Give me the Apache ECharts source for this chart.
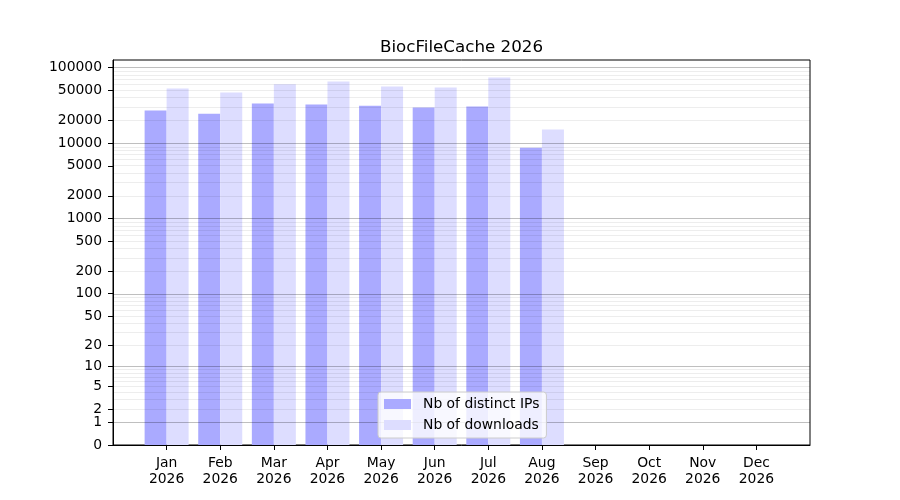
<!DOCTYPE html>
<html>
<head>
<meta charset="utf-8">
<script src="https://cdn.jsdelivr.net/npm/echarts@6/dist/echarts.min.js"></script>
<style>
    html, body { margin: 0; padding: 0; background: #fff; }
    #chart { width: 900px; height: 500px; }
</style>
</head>
<body>
<div id="chart"></div>
<script>
const title = "BiocFileCache 2026";
const months = ["Jan", "Feb", "Mar", "Apr", "May", "Jun", "Jul", "Aug", "Sep", "Oct", "Nov", "Dec"];
const year = "2026";
const distinctIps = [26900, 24500, 33300, 32300, 31300, 29500, 30400, 8690];
const downloads = [52600, 46600, 60100, 65200, 56000, 54300, 73700, 15060];
const yTicks = [0, 1, 2, 5, 10, 20, 50, 100, 200, 500, 1000, 2000, 5000, 10000, 20000, 50000, 100000];
const majorGrid = [1, 10, 100, 1000, 10000, 100000];
const minorSteps = [2, 3, 4, 5, 6, 7, 8, 9];

const FONT = "DejaVu Sans";

// symlog-ish scale used by the reference: y = log10(1 + v)
const tf = v => Math.log10(1 + v);

const minorGrid = [];
majorGrid.slice(0, 5).forEach(d => minorSteps.forEach(k => minorGrid.push(k * d)));

const toPoints = arr => arr.map((v, i) => [i, tf(v)]);

const chart = echarts.init(document.getElementById("chart"), null, { renderer: "canvas" });
chart.setOption({
    animation: false,
    textStyle: { fontFamily: FONT },
    title: {
        text: title,
        left: 456.5,
        top: 34,
        textAlign: "center",
        textStyle: { fontFamily: FONT, fontSize: 16.7, fontWeight: "normal", color: "#000" }
    },
    grid: {
        left: 113,
        right: 90,
        top: 60,
        bottom: 55,
        show: true,
        borderColor: "#000",
        borderWidth: 1,
        outerBoundsMode: "none"
    },
    legend: {
        orient: "vertical",
        left: 378,
        top: 392,
        z: 10,
        icon: "rect",
        itemWidth: 27,
        itemHeight: 10,
        itemGap: 5,
        padding: [4, 7, 5, 6],
        backgroundColor: "rgba(255,255,255,0.8)",
        borderColor: "#cccccc",
        borderWidth: 1,
        borderRadius: 3,
        selectedMode: false,
        textStyle: { fontFamily: FONT, fontSize: 13.9, color: "#000", lineHeight: 16, padding: [0, 0, 0, 7] },
        data: ["Nb of distinct IPs", "Nb of downloads"]
    },
    xAxis: {
        type: "value",
        min: -1,
        max: 12,
        interval: 1,
        axisLine: { show: true, onZero: false, lineStyle: { color: "#000", width: 1 } },
        axisTick: {
            show: true, length: 5, inside: false,
            lineStyle: { color: "#000", width: 1 },
            customValues: months.map((m, i) => i)
        },
        axisLabel: {
            customValues: months.map((m, i) => i),
            formatter: v => months[v] + "\n" + year,
            color: "#000",
            fontFamily: FONT,
            fontSize: 13.9,
            lineHeight: 15.5,
            margin: 11
        },
        splitLine: { show: false }
    },
    yAxis: {
        type: "value",
        min: 0,
        max: 5.1,
        axisLine: { show: true, onZero: false, lineStyle: { color: "#000", width: 1 } },
        axisTick: {
            show: true, length: 5, inside: false,
            lineStyle: { color: "#000", width: 1 },
            customValues: yTicks.map(tf)
        },
        axisLabel: {
            customValues: yTicks.map(tf),
            formatter: v => String(Math.round(Math.pow(10, v) - 1)),
            color: "#000",
            fontFamily: FONT,
            fontSize: 13.9,
            padding: [3, 0, 0, 0],
            margin: 11
        },
        splitLine: { show: false }
    },
    series: [
        {
            name: "Nb of distinct IPs",
            type: "bar",
            barWidth: 22,
            barGap: "0%",
            itemStyle: { color: "#aaaaff" },
            data: toPoints(distinctIps),
            markLine: {
                silent: true,
                symbol: ["none", "none"],
                label: { show: false },
                lineStyle: { color: "rgba(0,0,0,0.25)", width: 1, type: "solid" },
                data: majorGrid.map(v => ({ yAxis: tf(v) }))
            }
        },
        {
            name: "Nb of downloads",
            type: "bar",
            barWidth: 22,
            barGap: "0%",
            itemStyle: { color: "#ddddff" },
            data: toPoints(downloads),
            markLine: {
                silent: true,
                symbol: ["none", "none"],
                label: { show: false },
                lineStyle: { color: "rgba(0,0,0,0.07)", width: 1, type: "solid" },
                data: minorGrid.map(v => ({ yAxis: tf(v) }))
            }
        }
    ]
});
</script>
</body>
</html>
